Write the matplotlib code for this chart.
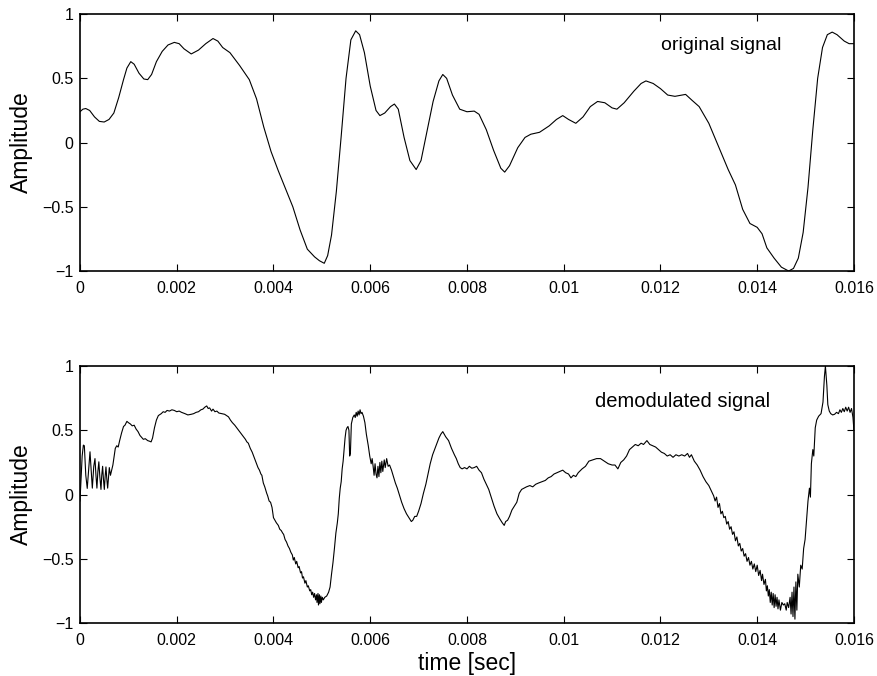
import numpy as np
import matplotlib
matplotlib.use("Agg")
import matplotlib.pyplot as plt

plt.rcParams['font.family'] = ['Liberation Sans', 'DejaVu Sans']

# original signal (time in ms, amplitude)
t_orig = [0.00, 0.06, 0.12, 0.20, 0.30, 0.40, 0.50, 0.60, 0.70, 0.80, 0.90, 0.97,
          1.05, 1.12, 1.22, 1.32, 1.40, 1.48, 1.58, 1.70, 1.82, 1.95, 2.05, 2.15,
          2.30, 2.45, 2.60, 2.75, 2.85, 2.95, 3.10, 3.30, 3.50, 3.65, 3.80, 3.95,
          4.10, 4.25, 4.40, 4.55, 4.70, 4.85, 4.95, 5.05, 5.12, 5.20, 5.30, 5.40,
          5.50, 5.60, 5.70, 5.78, 5.88, 6.00, 6.12, 6.20, 6.30, 6.42, 6.50, 6.58,
          6.70, 6.82, 6.95, 7.05, 7.18, 7.30, 7.42, 7.50, 7.58, 7.70, 7.85, 8.00,
          8.15, 8.25, 8.40, 8.55, 8.70, 8.78, 8.88, 9.05, 9.20, 9.32, 9.50, 9.70,
          9.85, 9.98, 10.10, 10.25, 10.40, 10.55, 10.70, 10.85, 11.00, 11.10, 11.25,
          11.45, 11.60, 11.70, 11.85, 12.00, 12.15, 12.30, 12.45, 12.52, 12.65, 12.80,
          13.00, 13.20, 13.40, 13.55, 13.70, 13.85, 14.00, 14.10, 14.20, 14.35, 14.50,
          14.65, 14.75, 14.85, 14.95, 15.05, 15.15, 15.25, 15.35, 15.45, 15.55, 15.65,
          15.80, 15.90, 16.00]
y_orig = [0.24, 0.26, 0.265, 0.25, 0.20, 0.165, 0.16, 0.18, 0.23, 0.35, 0.49, 0.58,
          0.63, 0.61, 0.54, 0.495, 0.49, 0.53, 0.63, 0.71, 0.76, 0.78, 0.77, 0.73,
          0.69, 0.72, 0.77, 0.81, 0.79, 0.74, 0.70, 0.60, 0.49, 0.34, 0.12, -0.07,
          -0.22, -0.36, -0.50, -0.68, -0.83, -0.89, -0.92, -0.94, -0.88, -0.72, -0.38, 0.05,
          0.50, 0.80, 0.87, 0.84, 0.70, 0.44, 0.25, 0.21, 0.23, 0.28, 0.30, 0.26,
          0.04, -0.14, -0.21, -0.14, 0.10, 0.32, 0.48, 0.53, 0.50, 0.37, 0.26, 0.24,
          0.245, 0.22, 0.10, -0.06, -0.20, -0.23, -0.18, -0.04, 0.04, 0.065, 0.08, 0.13,
          0.18, 0.21, 0.18, 0.15, 0.20, 0.28, 0.32, 0.31, 0.27, 0.26, 0.31,
          0.40, 0.46, 0.48, 0.46, 0.42, 0.37, 0.36, 0.37, 0.375, 0.33, 0.28,
          0.15, -0.03, -0.21, -0.33, -0.52, -0.63, -0.66, -0.71, -0.82, -0.90, -0.97,
          -1.00, -0.98, -0.90, -0.70, -0.35, 0.10, 0.50, 0.74, 0.84, 0.86, 0.84,
          0.79, 0.77, 0.77]

# demodulated signal (time in ms, amplitude)
t_demod = [0.000, 0.020, 0.045, 0.070, 0.090, 0.120, 0.150, 0.180, 0.207, 0.230,
           0.255, 0.285, 0.310, 0.330, 0.350, 0.370, 0.390, 0.410, 0.434, 0.450,
           0.468, 0.485, 0.503, 0.520, 0.537, 0.555, 0.572, 0.590, 0.606, 0.630,
           0.655, 0.680, 0.700, 0.730, 0.760, 0.790, 0.820, 0.860, 0.900, 0.930,
           0.970, 1.000, 1.040, 1.080, 1.120, 1.160, 1.200, 1.240, 1.275, 1.310,
           1.350, 1.400, 1.440, 1.470, 1.500, 1.540, 1.580, 1.620, 1.680, 1.720,
           1.760, 1.800, 1.850, 1.900, 1.950, 2.000, 2.050, 2.100, 2.170, 2.230,
           2.300, 2.350, 2.400, 2.450, 2.500, 2.540, 2.580, 2.620, 2.650, 2.680,
           2.720, 2.750, 2.790, 2.830, 2.870, 2.930, 2.990, 3.030, 3.070, 3.110,
           3.150, 3.200, 3.240, 3.280, 3.300, 3.340, 3.380, 3.420, 3.450, 3.480,
           3.520, 3.560, 3.620, 3.650, 3.680, 3.710, 3.740, 3.760, 3.790, 3.820,
           3.860, 3.880, 3.910, 3.940, 3.970, 4.000, 4.030, 4.060, 4.100, 4.130,
           4.160, 4.190, 4.210, 4.240, 4.270, 4.300, 4.330, 4.360, 4.390, 4.410,
           4.430, 4.460, 4.480, 4.510, 4.530, 4.560, 4.580, 4.600, 4.620, 4.650,
           4.670, 4.700, 4.720, 4.750, 4.770, 4.790, 4.810, 4.830, 4.850, 4.870,
           4.890, 4.900, 4.920, 4.930, 4.950, 4.960, 4.980, 4.990, 5.010, 5.030,
           5.060, 5.100, 5.140, 5.170, 5.200, 5.230, 5.260, 5.290, 5.320, 5.340,
           5.360, 5.380, 5.400, 5.420, 5.440, 5.460, 5.480, 5.500, 5.520, 5.540,
           5.560, 5.575, 5.590, 5.610, 5.640, 5.670, 5.690, 5.710, 5.730, 5.750,
           5.770, 5.790, 5.810, 5.830, 5.860, 5.890, 5.920, 5.960, 5.990, 6.020,
           6.040, 6.060, 6.080, 6.100, 6.120, 6.140, 6.160, 6.180, 6.200, 6.220,
           6.240, 6.260, 6.290, 6.310, 6.340, 6.370, 6.400, 6.440, 6.480, 6.520,
           6.560, 6.600, 6.650, 6.700, 6.750, 6.800, 6.850, 6.880, 6.920, 6.960,
           7.000, 7.050, 7.100, 7.150, 7.200, 7.240, 7.290, 7.340, 7.380, 7.420,
           7.460, 7.500, 7.530, 7.560, 7.620, 7.680, 7.740, 7.780, 7.820, 7.860,
           7.900, 7.950, 8.000, 8.050, 8.100, 8.150, 8.200, 8.250, 8.300, 8.350,
           8.400, 8.450, 8.500, 8.560, 8.620, 8.680, 8.730, 8.770, 8.800, 8.840,
           8.880, 8.930, 8.980, 9.030, 9.080, 9.130, 9.180, 9.230, 9.300, 9.360,
           9.420, 9.480, 9.550, 9.620, 9.680, 9.740, 9.800, 9.860, 9.920, 9.980,
           10.040, 10.100, 10.150, 10.200, 10.250, 10.300, 10.380, 10.450, 10.520, 10.600,
           10.680, 10.760, 10.840, 10.920, 11.000, 11.060, 11.120, 11.180, 11.240, 11.300,
           11.360, 11.420, 11.480, 11.540, 11.600, 11.650, 11.720, 11.780, 11.840, 11.900,
           11.960, 12.020, 12.080, 12.140, 12.200, 12.260, 12.320, 12.380, 12.440, 12.500,
           12.560, 12.600, 12.640, 12.700, 12.760, 12.820, 12.880, 12.940, 13.000, 13.050,
           13.100, 13.130, 13.160, 13.190, 13.220, 13.250, 13.280, 13.310, 13.340, 13.370,
           13.400, 13.430, 13.460, 13.490, 13.520, 13.550, 13.580, 13.610, 13.640, 13.670,
           13.700, 13.730, 13.760, 13.790, 13.820, 13.850, 13.880, 13.910, 13.940, 13.970,
           14.000, 14.030, 14.060, 14.090, 14.110, 14.140, 14.170, 14.190, 14.210, 14.230,
           14.250, 14.270, 14.290, 14.310, 14.330, 14.350, 14.370, 14.390, 14.410, 14.430,
           14.450, 14.480, 14.510, 14.540, 14.570, 14.600, 14.620, 14.650, 14.680, 14.700,
           14.720, 14.740, 14.760, 14.780, 14.800, 14.820, 14.840, 14.870, 14.900, 14.930,
           14.960, 14.990, 15.020, 15.050, 15.080, 15.100, 15.120, 15.150, 15.170, 15.200,
           15.230, 15.270, 15.320, 15.360, 15.390, 15.410, 15.440, 15.460, 15.490, 15.520,
           15.560, 15.600, 15.640, 15.680, 15.710, 15.740, 15.770, 15.800, 15.830, 15.860,
           15.890, 15.920, 15.950, 15.980, 16.000]
y_demod = [-0.05, 0.10, 0.30, 0.385, 0.38, 0.15, 0.048, 0.20, 0.333, 0.20,
           0.05, 0.22, 0.28, 0.15, 0.05, 0.18, 0.255, 0.14, 0.04, 0.15,
           0.22, 0.12, 0.04, 0.14, 0.215, 0.12, 0.05, 0.14, 0.21, 0.15,
           0.19, 0.23, 0.28, 0.36, 0.38, 0.37, 0.42, 0.48, 0.53, 0.54,
           0.57, 0.56, 0.55, 0.535, 0.54, 0.51, 0.49, 0.46, 0.445, 0.43,
           0.435, 0.42, 0.415, 0.41, 0.44, 0.52, 0.58, 0.615, 0.63, 0.645,
           0.64, 0.655, 0.65, 0.66, 0.655, 0.645, 0.65, 0.64, 0.63, 0.62,
           0.625, 0.63, 0.64, 0.645, 0.66, 0.665, 0.68, 0.69, 0.67, 0.675,
           0.65, 0.665, 0.645, 0.65, 0.635, 0.63, 0.625, 0.615, 0.605, 0.58,
           0.56, 0.54, 0.52, 0.50, 0.49, 0.47, 0.45, 0.43, 0.41, 0.40,
           0.36, 0.33, 0.27, 0.24, 0.21, 0.19, 0.16, 0.15, 0.09, 0.06,
           0.01, -0.01, -0.05, -0.06, -0.10, -0.18, -0.20, -0.22, -0.24, -0.27,
           -0.28, -0.30, -0.31, -0.35, -0.37, -0.40, -0.42, -0.45, -0.47, -0.51,
           -0.49, -0.54, -0.52, -0.57, -0.56, -0.61, -0.60, -0.65, -0.64, -0.69,
           -0.67, -0.72, -0.71, -0.75, -0.74, -0.78, -0.76, -0.80, -0.77, -0.82,
           -0.78, -0.84, -0.77, -0.86, -0.78, -0.85, -0.79, -0.84, -0.80, -0.82,
           -0.80, -0.79, -0.76, -0.72, -0.62, -0.53, -0.42, -0.30, -0.22, -0.15,
           -0.03, 0.05, 0.10, 0.20, 0.26, 0.35, 0.44, 0.50, 0.52, 0.53,
           0.50, 0.30, 0.32, 0.55, 0.60, 0.62, 0.60, 0.64, 0.61, 0.65,
           0.62, 0.66, 0.63, 0.64, 0.61, 0.56, 0.47, 0.38, 0.30, 0.24,
           0.28, 0.22, 0.15, 0.24, 0.16, 0.13, 0.22, 0.14, 0.25, 0.17,
           0.26, 0.18, 0.27, 0.21, 0.28, 0.22, 0.23, 0.19, 0.14, 0.09,
           0.05, 0.00, -0.06, -0.11, -0.15, -0.18, -0.21, -0.20, -0.17, -0.17,
           -0.13, -0.07, 0.01, 0.08, 0.17, 0.24, 0.31, 0.36, 0.40, 0.44,
           0.47, 0.49, 0.47, 0.45, 0.42, 0.36, 0.31, 0.28, 0.24, 0.21,
           0.20, 0.21, 0.20, 0.22, 0.205, 0.21, 0.22, 0.19, 0.17, 0.12,
           0.08, 0.04, -0.02, -0.09, -0.15, -0.19, -0.22, -0.24, -0.21, -0.20,
           -0.17, -0.12, -0.09, -0.06, 0.01, 0.04, 0.05, 0.06, 0.07, 0.06,
           0.08, 0.09, 0.10, 0.11, 0.13, 0.14, 0.16, 0.17, 0.18, 0.19,
           0.17, 0.16, 0.13, 0.15, 0.14, 0.17, 0.20, 0.22, 0.26, 0.27,
           0.28, 0.28, 0.26, 0.24, 0.23, 0.23, 0.20, 0.25, 0.27, 0.30,
           0.35, 0.37, 0.39, 0.38, 0.40, 0.39, 0.42, 0.39, 0.38, 0.37,
           0.35, 0.33, 0.32, 0.30, 0.31, 0.29, 0.31, 0.30, 0.31, 0.30,
           0.32, 0.29, 0.31, 0.26, 0.23, 0.19, 0.14, 0.10, 0.07, 0.03,
           -0.01, -0.05, -0.02, -0.10, -0.07, -0.15, -0.13, -0.18, -0.17, -0.23,
           -0.21, -0.27, -0.25, -0.31, -0.29, -0.36, -0.33, -0.40, -0.38, -0.44,
           -0.42, -0.48, -0.46, -0.52, -0.49, -0.55, -0.52, -0.58, -0.54, -0.60,
           -0.55, -0.63, -0.59, -0.67, -0.62, -0.70, -0.66, -0.75, -0.71, -0.79,
           -0.74, -0.84, -0.76, -0.86, -0.77, -0.88, -0.78, -0.87, -0.80, -0.89,
           -0.82, -0.90, -0.84, -0.86, -0.85, -0.90, -0.84, -0.88, -0.80, -0.93,
           -0.76, -0.95, -0.72, -0.97, -0.68, -0.90, -0.62, -0.72, -0.55, -0.58,
           -0.42, -0.35, -0.20, -0.05, 0.05, -0.02, 0.24, 0.35, 0.30, 0.52,
           0.58, 0.61, 0.63, 0.72, 0.92, 1.00, 0.85, 0.70, 0.65, 0.63,
           0.62, 0.625, 0.64, 0.63, 0.66, 0.64, 0.67, 0.645, 0.68, 0.65,
           0.68, 0.64, 0.67, 0.60, 0.50]

xticks = [0, 0.002, 0.004, 0.006, 0.008, 0.01, 0.012, 0.014, 0.016]
xticklabels = ['0', '0.002', '0.004', '0.006', '0.008', '0.01', '0.012', '0.014', '0.016']
yticks = [-1, -0.5, 0, 0.5, 1]
yticklabels = ['\u22121', '\u22120.5', '0', '0.5', '1']

fig = plt.figure(figsize=(8.78, 6.76), dpi=100)
ax1 = fig.add_axes([0.0911, 0.5991, 0.8815, 0.380])
ax2 = fig.add_axes([0.0911, 0.0784, 0.8815, 0.380])


def style(ax):
    ax.set_xlim(0, 0.016)
    ax.set_ylim(-1, 1)
    ax.set_xticks(xticks)
    ax.set_xticklabels(xticklabels)
    ax.set_yticks(yticks)
    ax.set_yticklabels(yticklabels)
    ax.tick_params(direction='in', length=5, width=0.8, top=True, right=True,
                   labelsize=11.5)
    ax.tick_params(axis='x', pad=7)
    ax.tick_params(axis='y', pad=4.5)
    for s in ax.spines.values():
        s.set_linewidth(1.2)
    ax.set_ylabel('Amplitude', fontsize=16.5)
    ax.yaxis.set_label_coords(-0.061, 0.5)


ax1.plot(np.array(t_orig) * 1e-3, y_orig, color='black', linewidth=0.8)
style(ax1)
ax1.text(0.01202, 0.72, 'original signal', fontsize=14, va='baseline')

ax2.plot(np.array(t_demod) * 1e-3, y_demod, color='black', linewidth=0.8)
style(ax2)
ax2.text(0.010646, 0.683, 'demodulated signal', fontsize=14.5, va='baseline')
ax2.set_xlabel('time [sec]', fontsize=16.5)
ax2.xaxis.set_label_coords(0.5, -0.112)

fig.savefig('out.png', dpi=100)
